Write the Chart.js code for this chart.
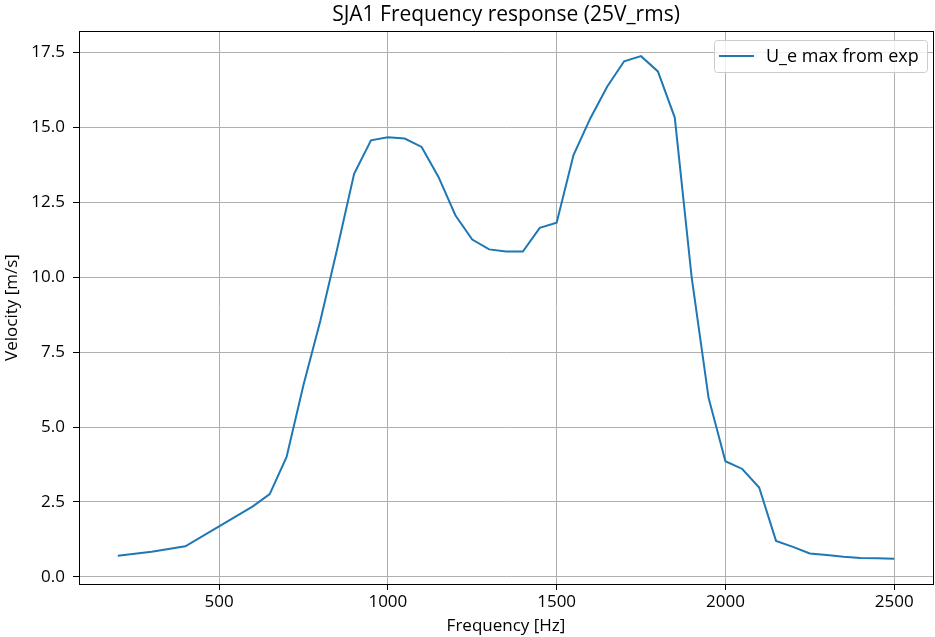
<!DOCTYPE html>
<html>
<head>
<meta charset="utf-8">
<script src="https://cdn.jsdelivr.net/npm/chart.js@4/dist/chart.umd.min.js"></script>
<style>
  html, body { margin: 0; padding: 0; background: #fff; }
  #wrap { width: 935px; height: 637px; }
</style>
</head>
<body>
<div id="wrap"><canvas id="grafico" width="935" height="637"></canvas></div>
<script>
// dados
const frequencias = [200, 300, 400, 500, 600, 650, 700, 750, 800, 850, 900, 950, 1000, 1050, 1100,
  1150, 1200, 1250, 1300, 1350, 1400, 1450, 1500, 1550, 1600, 1650, 1700, 1750, 1800, 1850,
  1900, 1950, 2000, 2050, 2100, 2150, 2200, 2250, 2300, 2350, 2400, 2450, 2500];
const velocidades = [0.70, 0.84, 1.02, 1.68, 2.35, 2.76, 4.00, 6.40, 8.55, 10.95, 13.45, 14.57, 14.67, 14.63, 14.35,
  13.35, 12.07, 11.26, 10.93, 10.86, 10.86, 11.65, 11.82, 14.08, 15.31, 16.37, 17.21, 17.38, 16.87, 15.33,
  10.00, 5.98, 3.86, 3.60, 2.98, 1.20, 1.00, 0.78, 0.73, 0.67, 0.63, 0.62, 0.60];
const ticksX = [500, 1000, 1500, 2000, 2500];
const ticksY = [0, 2.5, 5, 7.5, 10, 12.5, 15, 17.5];
const rotuloSerie = "U_e max from exp";
const titulo = "SJA1 Frequency response (25V_rms)";

const fonte = "'Open Sans', 'DejaVu Sans', sans-serif";
const azul = '#1f77b4';

// moldura preta em volta da área do gráfico + título centrado nos eixos
const moldura = {
  id: 'moldura',
  afterDraw(chart) {
    const { ctx, chartArea: a } = chart;
    ctx.save();
    ctx.strokeStyle = '#000';
    ctx.lineWidth = 1;
    ctx.strokeRect(Math.round(a.left) + 0.5, Math.round(a.top) + 0.5,
      Math.round(a.right - a.left), Math.round(a.bottom - a.top));
    ctx.fillStyle = '#000';
    ctx.font = '21px ' + fonte;
    ctx.textAlign = 'center';
    ctx.textBaseline = 'middle';
    ctx.fillText(titulo, (a.left + a.right) / 2, a.top - 16);
    ctx.restore();
  }
};

// legenda no estilo matplotlib (canto superior direito)
const legenda = {
  id: 'legenda',
  afterDraw(chart) {
    const { ctx, chartArea: a } = chart;
    const w = 213, h = 32;
    const x = a.right - 6 - w, y = a.top + 9;
    ctx.save();
    ctx.beginPath();
    ctx.roundRect(x + 0.5, y + 0.5, w, h, 3);
    ctx.fillStyle = 'rgba(255,255,255,0.8)';
    ctx.fill();
    ctx.strokeStyle = '#cccccc';
    ctx.lineWidth = 1;
    ctx.stroke();
    ctx.beginPath();
    ctx.moveTo(x + 5, y + h / 2);
    ctx.lineTo(x + 40, y + h / 2);
    ctx.strokeStyle = azul;
    ctx.lineWidth = 2;
    ctx.stroke();
    ctx.fillStyle = '#000';
    ctx.font = '18px ' + fonte;
    ctx.textBaseline = 'middle';
    ctx.fillText(rotuloSerie, x + 52, y + h / 2 + 1);
    ctx.restore();
  }
};

new Chart(document.getElementById('grafico').getContext('2d'), {
  type: 'line',
  data: {
    datasets: [{
      label: rotuloSerie,
      data: frequencias.map((f, i) => ({ x: f, y: velocidades[i] })),
      borderColor: azul,
      borderWidth: 2,
      pointRadius: 0,
      tension: 0,
      fill: false
    }]
  },
  options: {
    responsive: false,
    animation: false,
    layout: { padding: { left: 0, right: 2, top: 31, bottom: 0 } },
    plugins: {
      legend: { display: false },
      tooltip: { enabled: false },
      title: { display: false }
    },
    scales: {
      x: {
        type: 'linear',
        min: 85,
        max: 2615,
        afterBuildTicks: s => { s.ticks = ticksX.map(v => ({ value: v })); },
        afterFit: s => { s.height = 53; },
        grid: { color: '#b0b0b0', lineWidth: 1, tickColor: '#000', tickLength: 6 },
        border: { display: true, color: '#000', width: 1 },
        ticks: {
          color: '#000', font: { family: fonte, size: 17 }, padding: 2, maxRotation: 0,
          callback: v => String(v)
        },
        title: {
          display: true, text: 'Frequency [Hz]', color: '#000',
          font: { family: fonte, size: 17 }, padding: { top: 0, bottom: 1 }
        }
      },
      y: {
        min: -0.24,
        max: 18.22,
        afterBuildTicks: s => { s.ticks = ticksY.map(v => ({ value: v })); },
        afterFit: s => { s.width = 79; },
        grid: { color: '#b0b0b0', lineWidth: 1, tickColor: '#000', tickLength: 6 },
        border: { display: true, color: '#000', width: 1 },
        ticks: {
          color: '#000', font: { family: fonte, size: 17 }, padding: 8,
          callback: v => v.toFixed(1)
        },
        title: {
          display: true, text: 'Velocity [m/s]', color: '#000',
          font: { family: fonte, size: 17 }, padding: { top: 2, bottom: 0 }
        }
      }
    }
  },
  plugins: [moldura, legenda]
});
</script>
</body>
</html>
